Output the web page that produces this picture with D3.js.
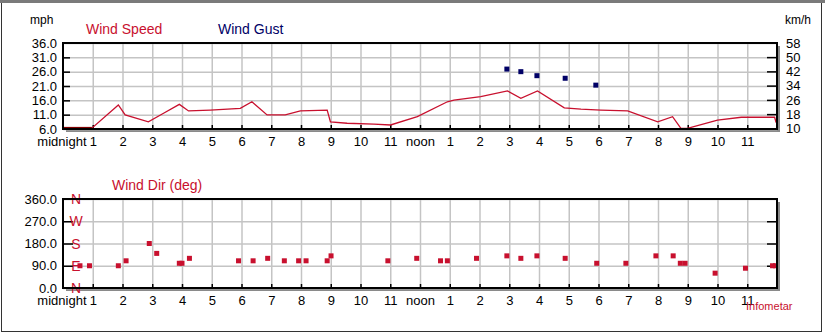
<!DOCTYPE html>
<html>
<head>
<meta charset="utf-8">
<script src="https://cdn.jsdelivr.net/npm/d3@7"></script>
<style>
  body { margin: 0; background: #fff; }
  svg text { font-family: "Liberation Sans Narrow", "Liberation Sans", Arial, sans-serif; }
</style>
</head>
<body>
<svg id="chart" width="825" height="333"></svg>
<script>
"use strict";
// hours after midnight
const speedHours = [0, 0.97, 1.86, 2.09, 2.87, 3.38, 3.91, 4.22, 4.95, 5.96, 6.35, 6.86, 7.47, 7.98,
  8.88, 8.99, 9.55, 10.45, 11.01, 11.91, 12.92, 13.14, 14.04, 14.94, 15.39, 15.95, 16.85, 17.41,
  18.08, 18.98, 19.99, 20.49, 20.77, 20.99, 22.0, 22.8, 23.92, 23.97];
const speedMph = [6.3, 6.3, 14.4, 10.9, 8.5, 11.5, 14.6, 12.3, 12.6, 13.2, 15.5, 10.9, 10.9, 12.3,
  12.6, 8.5, 8.0, 7.7, 7.4, 10.3, 15.5, 16.1, 17.3, 19.3, 16.7, 19.3, 13.4, 12.9,
  12.6, 12.3, 8.5, 10.3, 6.2, 6.2, 9.1, 10.1, 10.1, 8.2];

const gustHours = [14.92, 15.39, 15.93, 16.88, 17.91];
const gustMph = [26.9, 26.0, 24.6, 23.7, 21.3];

const dirHours = [0.57, 0.89, 1.86, 2.12, 2.90, 3.15, 3.91, 4.0, 4.25, 5.90, 6.39, 6.88, 7.44, 7.92,
  8.17, 8.88, 9.01, 10.92, 11.89, 12.69, 12.92, 13.90, 14.92, 15.39, 15.93, 16.88, 17.94, 18.92,
  19.93, 20.51, 20.75, 20.91, 21.92, 22.94, 23.85, 23.95];
const dirDeg = [90, 90, 90, 110, 180, 140, 100, 100, 120, 110, 110, 120, 110, 110,
  110, 110, 130, 110, 120, 110, 110, 120, 130, 120, 130, 120, 100, 100,
  130, 130, 100, 100, 60, 80, 90, 90];

const hourTicks = d3.range(0, 24);
const hourLabels = ["midnight", "1", "2", "3", "4", "5", "6", "7", "8", "9", "10", "11",
  "noon", "1", "2", "3", "4", "5", "6", "7", "8", "9", "10", "11"];
const mphTicks = [6, 11, 16, 21, 26, 31, 36];
const kmhTicks = [10, 18, 26, 34, 42, 50, 58];
const degTicks = [0, 90, 180, 270, 360];
const compass = ["N", "E", "S", "W", "N"];

const red = "#c8102e", navy = "#000066", grid = "#c4c4c4";
const svg = d3.select("#chart");

// outer frame
svg.append("rect").attr("x", 1.5).attr("y", 1.5).attr("width", 820).attr("height", 330)
  .attr("fill", "none").attr("stroke", "#333").attr("stroke-width", 1);
svg.append("rect").attr("x", 0).attr("y", 0).attr("width", 825).attr("height", 3).attr("fill", "#7a7a7a");

const x0 = 63, x1 = 777;
const x = d3.scaleLinear().domain([0, 24]).range([x0, x1]);

function panel(top, bottom, yScale, yTicks, fmt) {
  const g = svg.append("g");
  // drop shadow + background
  g.append("rect").attr("x", x0 + 3).attr("y", top + 3).attr("width", x1 - x0).attr("height", bottom - top)
    .attr("fill", "#8a8a8a");
  g.append("rect").attr("x", x0).attr("y", top).attr("width", x1 - x0).attr("height", bottom - top)
    .attr("fill", "#fff");
  // gridlines
  g.append("g").attr("transform", `translate(0,${bottom})`)
    .call(d3.axisBottom(x).tickValues(hourTicks.slice(1)).tickSize(-(bottom - top)).tickFormat(""))
    .call(a => a.select(".domain").remove())
    .call(a => a.selectAll("line").attr("stroke", grid).attr("stroke-width", 1.5));
  g.append("g").attr("transform", `translate(${x0},0)`)
    .call(d3.axisLeft(yScale).tickValues(yTicks).tickSize(-(x1 - x0)).tickFormat(""))
    .call(a => a.select(".domain").remove())
    .call(a => a.selectAll("line").attr("stroke", grid).attr("stroke-width", 1.5));
  // small inner hour ticks
  g.append("g").attr("transform", `translate(0,${bottom})`)
    .call(d3.axisBottom(x).tickValues(hourTicks.slice(1)).tickSize(-4).tickFormat(""))
    .call(a => a.select(".domain").remove())
    .call(a => a.selectAll("line").attr("stroke", "#000").attr("stroke-width", 1.5));
  // y labels
  g.append("g").attr("transform", `translate(${x0},0)`)
    .call(d3.axisLeft(yScale).tickValues(yTicks).tickSize(0).tickPadding(6).tickFormat(fmt))
    .call(a => a.select(".domain").remove())
    .call(a => a.selectAll("text").attr("font-size", 13).attr("fill", "#000"));
  // hour labels
  g.append("g").attr("transform", `translate(0,${bottom})`)
    .call(d3.axisBottom(x).tickValues(hourTicks).tickSize(0).tickPadding(8)
      .tickFormat((d, i) => hourLabels[i]))
    .call(a => a.select(".domain").remove())
    .call(a => a.selectAll("text").attr("font-size", 13).attr("fill", "#000"))
    .call(a => a.selectAll("text").filter(d => d === 0).attr("text-anchor", "end").attr("dx", 23));
  return g;
}

function frame(g, top, bottom) {
  g.append("rect").attr("x", x0).attr("y", top).attr("width", x1 - x0).attr("height", bottom - top)
    .attr("fill", "none").attr("stroke", "#000").attr("stroke-width", 2);
}

// ---- top panel: wind speed ----
const t1 = 43, b1 = 129;
const yMph = d3.scaleLinear().domain([6, 36]).range([b1, t1]);
const yKmh = d3.scaleLinear().domain([6 * 1.609, 36 * 1.609]).range([b1, t1]);
const g1 = panel(t1, b1, yMph, mphTicks, d3.format(".1f"));

g1.append("g").attr("transform", `translate(${x0},0)`)
  .call(d3.axisRight(yMph).tickValues(mphTicks.slice(1, -1)).tickSize(7).tickFormat(""))
  .call(a => a.select(".domain").remove())
  .call(a => a.selectAll("line").attr("stroke", "#000").attr("stroke-width", 1.5));
g1.append("g").attr("transform", `translate(${x1},0)`)
  .call(d3.axisLeft(yKmh).tickValues(kmhTicks.slice(1, -1)).tickSize(10).tickFormat(""))
  .call(a => a.select(".domain").remove())
  .call(a => a.selectAll("line").attr("stroke", "#000").attr("stroke-width", 1.5));
g1.append("g").attr("transform", `translate(${x1},0)`)
  .call(d3.axisRight(yKmh).tickValues(kmhTicks).tickSize(0).tickPadding(9))
  .call(a => a.select(".domain").remove())
  .call(a => a.selectAll("text").attr("font-size", 13).attr("fill", "#000"));

const speedData = speedHours.map((h, i) => ({h: h, v: speedMph[i]}));
g1.append("path").datum(speedData)
  .attr("fill", "none").attr("stroke", red).attr("stroke-width", 1.3)
  .attr("d", d3.line().x(d => x(d.h)).y(d => yMph(d.v)));
g1.append("line").attr("x1", x(0)).attr("x2", x(0.97)).attr("y1", yMph(6.3)).attr("y2", yMph(6.3))
  .attr("stroke", "#800000").attr("stroke-width", 2.5);

g1.selectAll(".gust").data(gustHours).enter().append("rect")
  .attr("x", (d) => x(d) - 2.5).attr("y", (d, i) => yMph(gustMph[i]) - 2.5)
  .attr("width", 5).attr("height", 5).attr("fill", navy);
frame(g1, t1, b1);

svg.append("text").attr("x", 30).attr("y", 24).attr("font-size", 12).text("mph");
svg.append("text").attr("x", 785).attr("y", 24).attr("font-size", 12).text("km/h");
svg.append("text").attr("x", 86).attr("y", 34).attr("font-size", 14).attr("fill", red).text("Wind Speed");
svg.append("text").attr("x", 218).attr("y", 34).attr("font-size", 14).attr("fill", navy).text("Wind Gust");

// ---- bottom panel: wind direction ----
const t2 = 199, b2 = 288;
const yDeg = d3.scaleLinear().domain([0, 360]).range([b2, t2]);
const g2 = panel(t2, b2, yDeg, degTicks, d3.format(".1f"));

g2.append("g").attr("transform", `translate(${x0},0)`)
  .call(d3.axisRight(yDeg).tickValues(degTicks.slice(1, -1)).tickSize(10).tickFormat(""))
  .call(a => a.select(".domain").remove())
  .call(a => a.selectAll("line").attr("stroke", "#000").attr("stroke-width", 1.5));
g2.append("g").attr("transform", `translate(${x1},0)`)
  .call(d3.axisLeft(yDeg).tickValues(degTicks.slice(1, -1)).tickSize(10).tickFormat(""))
  .call(a => a.select(".domain").remove())
  .call(a => a.selectAll("line").attr("stroke", "#000").attr("stroke-width", 1.5));

g2.selectAll(".dir").data(dirHours).enter().append("rect")
  .attr("x", (d) => x(d) - 2.5).attr("y", (d, i) => yDeg(dirDeg[i]) - 2.5)
  .attr("width", 5).attr("height", 5).attr("fill", red);

g2.selectAll(".compass").data(degTicks).enter().append("text")
  .attr("x", x0 + 13).attr("y", d => yDeg(d) + 5)
  .attr("text-anchor", "middle").attr("font-size", 14).attr("fill", red)
  .text((d, i) => compass[i]);
frame(g2, t2, b2);

svg.append("text").attr("x", 112).attr("y", 190).attr("font-size", 14).attr("fill", red).text("Wind Dir (deg)");
svg.append("text").attr("x", 746).attr("y", 310).attr("font-size", 11).attr("fill", red).text("Infometar");
</script>
</body>
</html>
